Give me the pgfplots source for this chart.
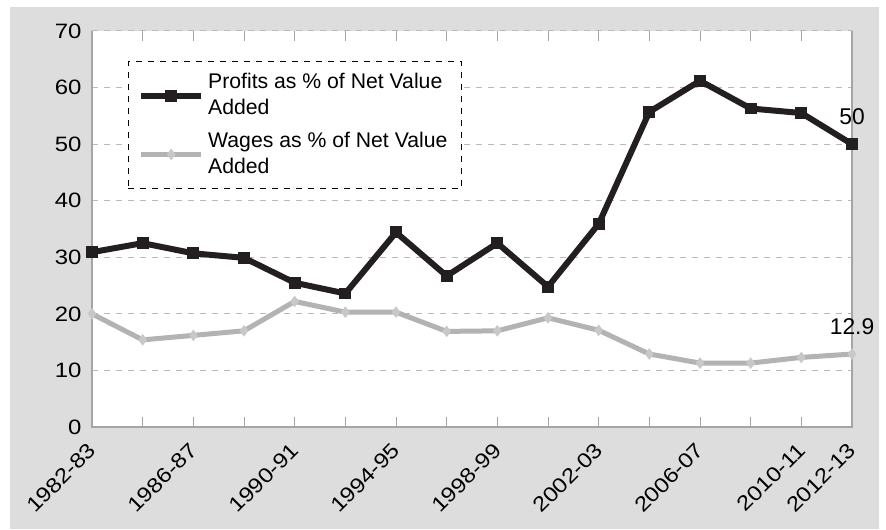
\documentclass[border=0pt]{standalone}
\usepackage{pgfplots}
\pgfplotsset{compat=1.18}
\usepackage{fontspec}
\setmainfont{Liberation Sans}
% slightly wider digits for the axis numbers
\newfontfamily\tickfont[FakeStretch=1.15]{Liberation Sans}
\definecolor{bggray}{RGB}{221,221,221}
\definecolor{profit}{RGB}{35,31,32}
\definecolor{wage}{RGB}{179,179,179}
\definecolor{wagemark}{RGB}{200,200,200}
\definecolor{gridgray}{RGB}{185,185,185}
\definecolor{framegray}{RGB}{165,165,165}

\pgfplotstableread{
x profits wages
0  30.9 20.0
1  32.5 15.4
2  30.7 16.2
3  29.9 17.0
4  25.5 22.2
5  23.6 20.3
6  34.4 20.3
7  26.7 16.9
8  32.5 17.0
9  24.8 19.3
10 35.9 17.1
11 55.7 12.9
12 61.2 11.3
13 56.3 11.3
14 55.5 12.3
15 50.0 12.9
}\datatable

\begin{document}
\fontsize{10.6}{13}\selectfont
\begin{tikzpicture}
\useasboundingbox (-46pt,-51pt) rectangle (397pt,213.5pt);
\fill[bggray] (-41pt,-51pt) rectangle (393.5pt,210pt);
\begin{axis}[
  scale only axis,
  width=380pt, height=198pt,
  xmin=0, xmax=15, ymin=0, ymax=70,
  clip=false,
  axis background/.style={fill=white},
  axis line style={draw=none},
  xtick={0,...,15},
  xticklabels={1982-83,,1986-87,,1990-91,,1994-95,,1998-99,,2002-03,,2006-07,,2010-11,2012-13},
  ytick={0,10,...,70},
  tick align=inside,
  major tick length=5pt,
  xtick style={framegray, line width=0.5pt},
  ytick style={draw=none},
  ymajorgrids,
  grid style={gridgray, dashed, line width=0.5pt},
  /pgf/number format/assume math mode=true,
  tick label style={font=\tickfont\fontsize{10.4}{13}\selectfont},
  xticklabel style={xshift=-2.5pt, yshift=-7pt, rotate=45, anchor=north east, inner sep=0pt},
  yticklabel style={xshift=-1.5pt},
  legend style={at={(rel axis cs:0.047,0.924)}, anchor=north west,
    draw=black, dashed, line width=0.5pt, fill=white,
    font=\fontsize{10.6}{13}\selectfont,
    inner xsep=5pt, inner ysep=4pt, row sep=3pt,
    cells={anchor=west, align=left}},
  legend image code/.code={%
    \draw[mark repeat=2, mark phase=2, #1] plot coordinates {(0pt,0pt) (15pt,0pt) (30pt,0pt)};},
]
\draw[framegray, line width=0.8pt] (rel axis cs:0,1) -- (rel axis cs:0,0) -- (rel axis cs:1,0) -- (rel axis cs:1,1);

\addplot[solid, profit, line width=3pt, mark=square*, mark size=2.7pt,
  mark options={solid, fill=profit, draw=profit, line width=0.5pt}]
  table[x=x, y=profits] {\datatable};
\addlegendentry{Profits as \% of Net Value\\Added}

\addplot[solid, wage, line width=2.5pt, mark=diamond*, mark size=2.5pt,
  mark options={solid, fill=wagemark, draw=wagemark, line width=0.5pt}]
  table[x=x, y=wages] {\datatable};
\addlegendentry{Wages as \% of Net Value\\Added}

\node[anchor=base, yshift=10pt, font=\fontsize{11.4}{13}\selectfont] at (axis cs:15,50) {50};
\node[anchor=base, yshift=10pt, font=\fontsize{11.4}{13}\selectfont] at (axis cs:15,12.9) {12.9};
\end{axis}
\end{tikzpicture}
\end{document}
